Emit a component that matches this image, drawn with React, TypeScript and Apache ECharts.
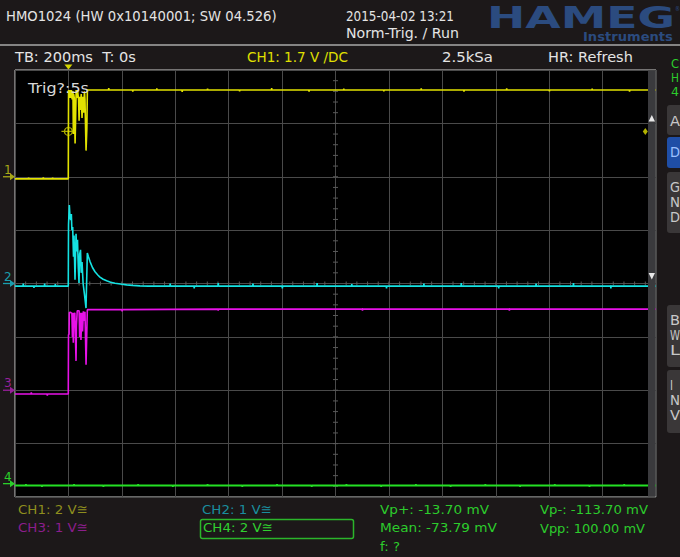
import React, { useEffect, useRef } from "react";
import * as echarts from "echarts";

// ---- axis settings (time in ms, vertical in divisions) ----
const timeMin = -200;
const timeMax = 2200;
const timePerDiv = 200;
const halfDivs = 4;

// ---- channel settings ----
const chNames = ["CH1", "CH2", "CH3", "CH4"];
const chVoltsPerDiv = [2, 1, 1, 2];
const chOffsetDiv = [2, 0, -2, -3.75];

const triggerTime = 0;
const triggerLevelV = 1.7; // CH1
const triggerMarkerRightTime = 2160;

// ---- waveforms: [time ms, volts] ----
const ch1Points = [
  [-200, -0.08], [-150, -0.08], [-149, -0.03], [-148, -0.08], [-95, -0.08], [-94, -0.02], [-93, -0.08],
  [-60, -0.08], [-59, -0.03], [-58, -0.08], [-0.5, -0.08],
  [0.5, 3.25], [3, 2.95], [5, 3.25], [8, 2.95], [11, 3.25], [14, 2.9], [17, 3.2], [18.5, 1.6], [19.5, 3.1],
  [22, 2.95], [25, 1.25], [27, 2.2], [29, 3.25], [31, 2.95], [34, 3.25], [38, 2.9], [40, 2.1], [42, 3.0],
  [45, 2.5], [48, 3.1], [51, 2.2], [54, 3.0], [57, 2.4], [60, 3.2], [62, 2.9], [66, 0.98], [69, 1.8], [71, 3.25],
  [150, 3.25], [151, 3.32], [152, 3.25], [240, 3.25], [241, 3.19], [242, 3.25], [330, 3.25], [331, 3.31], [332, 3.25],
  [425, 3.25], [426, 3.18], [427, 3.25], [520, 3.25], [521, 3.3], [522, 3.25], [640, 3.25], [641, 3.2], [642, 3.25],
  [760, 3.25], [761, 3.32], [762, 3.25], [900, 3.25], [901, 3.19], [902, 3.25], [1030, 3.25], [1031, 3.3], [1032, 3.25],
  [1180, 3.25], [1181, 3.2], [1182, 3.25], [1320, 3.25], [1321, 3.31], [1322, 3.25], [1480, 3.25], [1481, 3.19], [1482, 3.25],
  [1640, 3.25], [1641, 3.31], [1642, 3.25], [1800, 3.25], [1801, 3.2], [1802, 3.25], [1960, 3.25], [1961, 3.3], [1962, 3.25],
  [2100, 3.25], [2101, 3.19], [2102, 3.25], [2200, 3.25],
];

const ch2Points = [
  [-200, -0.05], [-170, -0.05], [-169, -0.0], [-168, -0.05], [-130, -0.05], [-129, -0.08], [-128, -0.05],
  [-90, -0.05], [-89, 0.0], [-88, -0.05], [-50, -0.05], [-49, -0.01], [-48, -0.05], [-0.5, -0.05],
  [0.4, 1.1], [3.4, 1.47], [6, 1.25], [8.6, 1.19], [11, 1.3], [13, 1.0], [16, 1.06], [19, 0.5], [21, 0.9],
  [24.7, 0.07], [28.5, 0.93], [31, 0.6], [34, 0.82], [37, 0.3], [39.7, 0.01], [42, 0.55], [45.3, 0.63],
  [48, 0.2], [51, 0.4], [55, 0.0], [60, -0.2], [65.9, -0.46], [70.8, 0.57], [75, 0.5], [80.9, 0.41],
  [90, 0.3], [99.6, 0.22], [110, 0.16], [118, 0.12], [130, 0.08], [143, 0.05], [158, 0.025], [174.5, 0.006],
  [195, -0.01], [218, -0.026], [240, -0.035], [268, -0.045], [300, -0.05],
  [380, -0.05], [381, 0.0], [382, -0.05], [470, -0.05], [471, -0.09], [472, -0.05], [560, -0.05], [561, 0.01], [562, -0.05],
  [690, -0.05], [691, -0.0], [692, -0.05], [800, -0.05], [801, -0.09], [802, -0.05], [930, -0.05], [931, 0.01], [932, -0.05],
  [1060, -0.05], [1061, -0.01], [1062, -0.05], [1190, -0.05], [1191, -0.09], [1192, -0.05], [1330, -0.05], [1331, 0.0], [1332, -0.05],
  [1470, -0.05], [1471, 0.01], [1472, -0.05], [1610, -0.05], [1611, -0.09], [1612, -0.05], [1750, -0.05], [1751, 0.0], [1752, -0.05],
  [1890, -0.05], [1891, 0.01], [1892, -0.05], [2030, -0.05], [2031, -0.09], [2032, -0.05], [2200, -0.05],
];

const ch3Points = [
  [-200, -0.07], [-140, -0.07], [-139, -0.04], [-138, -0.07], [-80, -0.07], [-79, -0.1], [-78, -0.07], [-0.5, -0.07],
  [0.3, 1.04], [2.5, 1.05], [3.4, 1.455], [8, 1.46], [13, 1.44], [15, 1.0], [17, 1.45], [18.4, 0.89], [20, 1.4],
  [24, 1.45], [28.5, 0.55], [30, 1.2], [33, 1.49], [40, 1.49], [42, 1.0], [44, 1.45], [47, 0.94], [50, 1.45],
  [53, 1.1], [56, 1.48], [60, 1.3], [62, 1.47], [66, 0.48], [70.8, 1.51],
  [200, 1.51], [201, 1.48], [202, 1.51], [560, 1.52], [561, 1.49], [562, 1.52], [1100, 1.52], [1101, 1.49], [1102, 1.52],
  [1650, 1.52], [1651, 1.49], [1652, 1.52], [2200, 1.52],
];

const ch4Points = [
  [-200, -0.07], [-160, -0.07], [-159, -0.02], [-158, -0.07], [-100, -0.07], [-99, -0.12], [-98, -0.07],
  [20, -0.07], [21, -0.02], [22, -0.07], [130, -0.07], [131, -0.12], [132, -0.07], [260, -0.07], [261, -0.02], [262, -0.07],
  [390, -0.07], [391, -0.12], [392, -0.07], [520, -0.07], [521, -0.02], [522, -0.07], [650, -0.07], [651, -0.12], [652, -0.07],
  [780, -0.07], [781, -0.02], [782, -0.07], [910, -0.07], [911, -0.12], [912, -0.07], [1040, -0.07], [1041, -0.02], [1042, -0.07],
  [1170, -0.07], [1171, -0.12], [1172, -0.07], [1300, -0.07], [1301, -0.02], [1302, -0.07], [1430, -0.07], [1431, -0.12], [1432, -0.07],
  [1560, -0.07], [1561, -0.02], [1562, -0.07], [1690, -0.07], [1691, -0.12], [1692, -0.07], [1820, -0.07], [1821, -0.02], [1822, -0.07],
  [1950, -0.07], [1951, -0.12], [1952, -0.07], [2080, -0.07], [2081, -0.02], [2082, -0.07], [2200, -0.07],
];

const chPoints = [ch1Points, ch2Points, ch3Points, ch4Points];

// ---- screen texts ----
const headerTitle = "HMO1024 (HW 0x10140001; SW 04.526)";
const headerDate = "2015-04-02 13:21";
const headerMode = "Norm-Trig. / Run";
const tbText = "TB: 200ms  T: 0s";
const trigSourceText = "CH1: 1.7 V /DC";
const sampleText = "2.5kSa";
const hrText = "HR: Refresh";
const trigStateText = "Trig?:5s";
const chLabels = ["CH1: 2 V\u2245", "CH2: 1 V\u2245", "CH3: 1 V\u2245", "CH4: 2 V\u2245"];
const measTexts = ["Vp+: -13.70 mV", "Mean: -73.79 mV", "f: ?", "Vp-: -113.70 mV", "Vpp: 100.00 mV"];

// ---- styles / layout ----
const GL = 15, GT = 70, GW = 641, GH = 427;
const FONT = '"DejaVu Sans"';
const traceColors = ["#e2e200", "#14e2e2", "#e812e8", "#24e024"];
const markerColors = ["#a8a818", "#1a9fae", "#98209a", "#2ad02a"];
const labelColors = ["#8e8e1e", "#1a8e9e", "#8c1e8c", "#30d030"];
const measColor = "#2ccc2c";

const xPix = (t: number) => GL + ((t - timeMin) / (timeMax - timeMin)) * GW;
const yPix = (d: number) => GT + GH / 2 - (d * GH) / (2 * halfDivs);

let measureCtx: CanvasRenderingContext2D | null = null;
function fit(text: string, size: number, weight: string, target: number) {
  if (!measureCtx) measureCtx = document.createElement("canvas").getContext("2d");
  if (!measureCtx) return 1;
  measureCtx.font = `${weight} ${size}px ${FONT}`;
  const w = measureCtx.measureText(text).width;
  return w > 0 ? target / w : 1;
}

function txt(text: string, x: number, y: number, w: number, fill: string, size = 14, weight = "normal", scaleY = 1) {
  return {
    type: "text",
    x,
    y,
    scaleX: fit(text, size, weight, w),
    scaleY,
    z: 20,
    style: { text, fill, fontSize: size, fontFamily: FONT, fontWeight: weight, verticalAlign: "middle", align: "left" },
  };
}

export default function App() {
  const ref = useRef<HTMLDivElement>(null);
  useEffect(() => {
    if (!ref.current) return;
    const chart = echarts.init(ref.current, undefined, { renderer: "svg" });

    const series: any[] = chPoints
      .map((pts, i) => ({
        type: "line",
        name: chNames[i],
        data: pts.map(([t, v]) => [t, v / chVoltsPerDiv[i] + chOffsetDiv[i]]),
        showSymbol: false,
        symbol: "none",
        lineStyle: { color: traceColors[i], width: i === 3 ? 1.8 : 1.6 },
        z: 3 + (3 - i),
      }))
      .reverse();

    const trigDiv = triggerLevelV / chVoltsPerDiv[0] + chOffsetDiv[0];
    series.push({
      type: "scatter",
      data: [[triggerTime, trigDiv]],
      symbol: "path://M0,5 H14 M7,0 V10 M3.1,5 A3.9,3.9 0 1 1 10.9,5 A3.9,3.9 0 1 1 3.1,5",
      symbolSize: [14, 10],
      itemStyle: { color: "rgba(0,0,0,0)", borderColor: "#d8d800", borderWidth: 1.2 },
      z: 10,
      silent: true,
    });
    series.push({
      type: "scatter",
      data: [[triggerMarkerRightTime, trigDiv]],
      symbol: "diamond",
      symbolSize: [5, 7],
      itemStyle: { color: "#e0e000" },
      z: 10,
      silent: true,
    });

    const g: any[] = [];
    // header separator
    g.push({ type: "line", shape: { x1: 0, y1: 45, x2: 680, y2: 45 }, style: { stroke: "#a8a8a8", lineWidth: 1.5 }, z: 5 });
    // header texts
    g.push(txt(headerTitle, 6, 16, 271, "#e4e4e4"));
    g.push(txt(headerDate, 346, 16, 108, "#e4e4e4"));
    g.push(txt(headerMode, 346, 33, 113, "#e4e4e4"));
    g.push(txt("HAMEG", 487, 17, 188, "#2b4b7f", 28, "bold", 1.08));
    g.push(txt("\u00ae", 675, 8, 5, "#2b4b7f", 7));
    g.push(txt("Instruments", 583, 37, 90, "#2b4b7f", 12, "bold"));
    // status row
    g.push(txt(tbText, 15, 57, 121, "#e4e4e4"));
    g.push(txt(trigSourceText, 247, 57, 101, "#e0e000"));
    g.push(txt(sampleText, 442, 57, 51, "#e4e4e4"));
    g.push(txt(hrText, 548, 57, 85, "#e4e4e4"));
    // trigger position triangle
    const tx = xPix(triggerTime);
    g.push({ type: "polygon", shape: { points: [[tx - 4, 64.5], [tx + 4, 64.5], [tx, 69.5]] }, style: { fill: "#d4d400" }, z: 20 });
    // trig state
    g.push(txt(trigStateText, 28, 88, 61, "#d8d8d8"));

    // centre ticks
    const cx = xPix((timeMin + timeMax) / 2);
    const cy = yPix(0);
    for (let k = 1; k < halfDivs * 2 * 5; k++) {
      const y = GT + (k * GH) / (halfDivs * 10);
      g.push({ type: "line", shape: { x1: cx - 2.5, y1: y, x2: cx + 2.5, y2: y }, style: { stroke: "#5a5a5a", lineWidth: 1 }, z: 1 });
    }
    const nxDiv = (timeMax - timeMin) / timePerDiv;
    for (let k = 1; k < nxDiv * 5; k++) {
      const x = GL + (k * GW) / (nxDiv * 5);
      g.push({ type: "line", shape: { x1: x, y1: cy - 2, x2: x, y2: cy + 2 }, style: { stroke: "#5a5a5a", lineWidth: 1 }, z: 1 });
    }

    // channel ground markers
    for (let i = 0; i < 4; i++) {
      const y = yPix(chOffsetDiv[i]);
      g.push({ type: "line", shape: { x1: 3, y1: y, x2: 12, y2: y }, style: { stroke: markerColors[i], lineWidth: 1.3 }, z: 20 });
      g.push({ type: "polygon", shape: { points: [[10, y - 3.5], [15, y], [10, y + 3.5]] }, style: { fill: markerColors[i] }, z: 20 });
      g.push({
        type: "text",
        x: 4,
        y: y - 7,
        z: 20,
        style: { text: String(i + 1), fill: markerColors[i], fontSize: 12, fontFamily: FONT, verticalAlign: "middle" },
      });
    }

    // right gray strip with cursor triangles
    g.push({ type: "rect", shape: { x: 648, y: GT + 0.5, width: 7.5, height: GH - 1 }, style: { fill: "#3a3a3d" }, z: 15 });
    g.push({ type: "polygon", shape: { points: [[648.6, 121.5], [655, 121.5], [651.8, 115]] }, style: { fill: "#e8e8e8" }, z: 16 });
    g.push({ type: "polygon", shape: { points: [[648.6, 273], [655, 273], [651.8, 279.5]] }, style: { fill: "#e8e8e8" }, z: 16 });

    // right side panel
    g.push(txt("C", 671, 64, 8, "#2ccc2c", 13));
    g.push(txt("H", 671, 78, 8, "#2ccc2c", 13));
    g.push(txt("4", 671, 91, 8, "#2ccc2c", 13));
    const btn = (y: number, h: number, fill: string) =>
      g.push({ type: "rect", shape: { x: 667, y, width: 20, height: h, r: 3 }, style: { fill }, z: 5 });
    btn(105, 30, "#3a3738");
    btn(137, 31, "#1f4ea6");
    btn(172, 61, "#3a3738");
    btn(305, 62, "#3a3738");
    btn(370, 63, "#3a3738");
    g.push(txt("A", 670, 121, 10, "#c8c8c8", 14));
    g.push(txt("D", 670, 152, 10, "#9cc0ff", 14));
    ["G", "N", "D"].forEach((c, k) => g.push(txt(c, 670, 187 + k * 15, 10, "#c8c8c8", 14)));
    ["B", "W", "L"].forEach((c, k) => g.push(txt(c, 670, 320 + k * 15, 10, "#c8c8c8", 14)));
    ["I", "N", "V"].forEach((c, k) => g.push(txt(c, 670, 385 + k * 15, c === "I" ? 3 : 10, "#c8c8c8", 14)));

    // bottom labels
    g.push(txt(chLabels[0], 18, 510, 70, labelColors[0], 13));
    g.push(txt(chLabels[2], 18, 528, 70, labelColors[2], 13));
    g.push(txt(chLabels[1], 202, 510, 70, labelColors[1], 13));
    g.push({ type: "rect", shape: { x: 200.5, y: 519.5, width: 153, height: 19, r: 2 }, style: { fill: "none", stroke: "#2bb52b", lineWidth: 1.5 }, z: 5 });
    g.push(txt(chLabels[3], 203, 528, 70, labelColors[3], 13));
    g.push(txt(measTexts[0], 380, 510, 109, measColor, 13));
    g.push(txt(measTexts[1], 380, 528, 117, measColor, 13));
    g.push(txt(measTexts[2], 380, 547, 20, measColor, 13));
    g.push(txt(measTexts[3], 540, 510, 108, measColor, 13));
    g.push(txt(measTexts[4], 540, 528, 105, measColor, 13));

    chart.setOption({
      animation: false,
      backgroundColor: "#1c1819",
      grid: {
        left: GL,
        top: GT,
        width: GW,
        height: GH,
        show: true,
        backgroundColor: "#000",
        borderColor: "#cfcfcf",
        borderWidth: 1,
      },
      xAxis: {
        type: "value",
        min: timeMin,
        max: timeMax,
        interval: timePerDiv,
        axisLine: { show: false },
        axisTick: { show: false },
        axisLabel: { show: false },
        splitLine: { show: true, lineStyle: { color: "#4a4a4a", width: 1 } },
      },
      yAxis: {
        type: "value",
        min: -halfDivs,
        max: halfDivs,
        interval: 1,
        axisLine: { show: false },
        axisTick: { show: false },
        axisLabel: { show: false },
        splitLine: { show: true, lineStyle: { color: "#4a4a4a", width: 1 } },
      },
      series,
      graphic: g,
    });
    return () => chart.dispose();
  }, []);
  return <div ref={ref} style={{ position: "fixed", left: 0, top: 0, width: 680, height: 557 }} />;
}
